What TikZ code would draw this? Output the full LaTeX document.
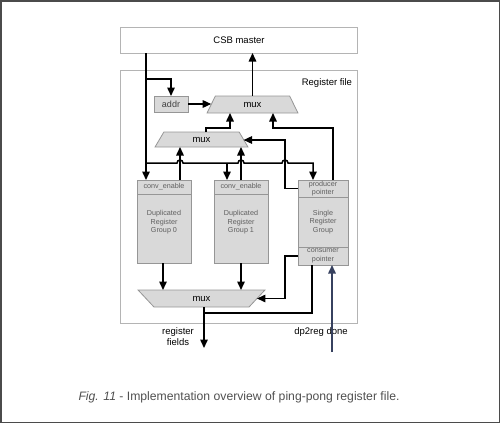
\documentclass[tikz,border=0pt]{standalone}
\usepackage{fontspec}
\setmainfont{Liberation Sans}
\usetikzlibrary{shapes.geometric,arrows.meta}

\definecolor{blockfill}{RGB}{217,217,217}
\definecolor{blockline}{RGB}{150,150,150}
\definecolor{boxline}{RGB}{180,180,180}
\definecolor{blocktext}{RGB}{95,95,95}
\definecolor{framegray}{RGB}{75,75,75}
\definecolor{donearrow}{RGB}{55,65,95}
\definecolor{captext}{RGB}{80,80,80}

\begin{document}
\begin{tikzpicture}[
    x = 1pt, y = -1pt,
    every node/.style = {inner sep = 0pt, outer sep = 0pt},
    outerbox/.style = {draw = boxline, line width = 1pt, rectangle},
    block/.style = {draw = blockline, fill = blockfill, line width = 0.8pt, rectangle,
        font = \fontsize{7.2}{8.6}\selectfont, text = blocktext, align = center},
    muxbox/.style = {draw = blockline, fill = blockfill, line width = 0.8pt, trapezium,
        trapezium stretches = true, font = \fontsize{9.5}{11}\selectfont},
    sigtext/.style = {font = \fontsize{9.5}{11}\selectfont, align = center},
    wire/.style = {line width = 1.5pt, black},
    feed/.style = {wire, -{Triangle[length = 8.5pt, width = 7.5pt]}}]

\useasboundingbox (0,0) rectangle (500,423);
\draw[framegray, line width = 1.5pt] (0.75,0.75) rectangle (499.25,422.25);

\node[outerbox, minimum width = 237pt, minimum height = 26pt, font = \fontsize{9.5}{11}\selectfont] (csb) at (239,40) {CSB master};
\node[outerbox, minimum width = 237pt, minimum height = 253pt] (regfile) at (239,196.5) {};
\node[sigtext, anchor = base east] (regtitle) at (352,85.5) {Register file};

\node[block, minimum width = 34pt, minimum height = 16pt, font = \fontsize{9}{11}\selectfont, text = black!75] (addr) at (171,104) {addr};
\node[muxbox, trapezium left angle = 69, trapezium right angle = 69, minimum width = 91pt, minimum height = 17pt] (muxtop) at (252.5,104.5) {mux};
\node[muxbox, trapezium left angle = 68, trapezium right angle = 68, minimum width = 93pt, minimum height = 15pt] (muxmid) at (201.5,139.5) {mux};

\node[block, minimum width = 54pt, minimum height = 14pt] (cen0) at (164,187) {conv\_enable};
\node[block, minimum width = 54pt, minimum height = 69pt, text depth = 14pt, anchor = north] (dup0) at (cen0.south) {Duplicated\\Register\\Group 0};
\node[block, minimum width = 54pt, minimum height = 14pt] (cen1) at (241,187) {conv\_enable};
\node[block, minimum width = 54pt, minimum height = 69pt, text depth = 14pt, anchor = north] (dup1) at (cen1.south) {Duplicated\\Register\\Group 1};

\node[block, minimum width = 50pt, minimum height = 17pt] (prod) at (323,188.5) {producer\\pointer};
\node[block, minimum width = 50pt, minimum height = 50pt, anchor = north] (single) at (prod.south) {Single\\Register\\Group};
\node[block, minimum width = 50pt, minimum height = 18pt, anchor = north] (cons) at (single.south) {consumer\\pointer};

\node[muxbox, trapezium left angle = 120, trapezium right angle = 120, minimum width = 127pt, minimum height = 17pt] (muxbot) at (201.5,298.5) {mux};

\coordinate (tap) at (146,79);
\coordinate (bus) at (146,163);
\coordinate (selA) at (230,128);
\coordinate (selB) at (273,128);
\coordinate (pm) at (285,140);
\coordinate (cm) at (285,298.5);
\coordinate (rfout) at (204,348);
\coordinate (join) at (204,313);
\coordinate (dpin) at (332,352);

\draw[feed] (csb.south -| tap) -- (cen0.north -| tap);
\draw[feed] (tap) -| (addr.north);
\draw[feed] (addr.east) -- (addr.east -| muxtop.west);
\draw[feed] (muxtop.north) -- (muxtop.north |- csb.south);
\draw[feed] ([xshift = 4.5pt]muxmid.north) |- (selA) -- (selA |- muxtop.south);
\draw[feed] ([xshift = 10pt]prod.north) |- (selB) -- (selB |- muxtop.south);
\draw[feed] ([xshift = 16pt]cen0.north) -- ([xshift = 16pt]cen0.north |- muxmid.south);
\draw[feed] (cen1.north) -- (cen1.north |- muxmid.south);
\draw[feed] (bus) -- ([xshift = 13pt]cen0.north |- bus)
    arc[start angle = 180, end angle = 0, radius = 3pt] -- ([xshift = -3pt]cen1.north |- bus)
    arc[start angle = 180, end angle = 0, radius = 3pt] -- ([xshift = -3pt]pm |- bus)
    arc[start angle = 180, end angle = 0, radius = 3pt] -- ([xshift = -10pt]prod.north |- bus)
    -- ([xshift = -10pt]prod.north);
\draw[feed] ([xshift = -14pt]cen1.north |- bus) -- ([xshift = -14pt]cen1.north);
\draw[feed] (prod.west) -| (pm) -- (pm -| muxmid.east);

\draw[feed] ([xshift = -1pt]dup0.south) -- ([xshift = -1pt]dup0.south |- muxbot.north);
\draw[feed] (dup1.south) -- (dup1.south |- muxbot.north);
\draw[feed] (cons.west) -| (cm) -- (cm -| muxbot.east);
\draw[feed] (muxbot.south -| rfout) -- (rfout);
\draw[wire] ([xshift = -11pt]cons.south) |- (join);

\node[sigtext] (fields) at (178,337) {register\\fields};
\node[sigtext] (done) at (321,332) {dp2reg done};
\draw[feed, donearrow] (dpin) -- (dpin |- cons.south);

\node[font = \fontsize{12.2}{14}\selectfont, text = captext] (caption) at (239,397) {\textit{Fig. 11} - Implementation overview of ping-pong register file.};
\end{tikzpicture}
\end{document}
